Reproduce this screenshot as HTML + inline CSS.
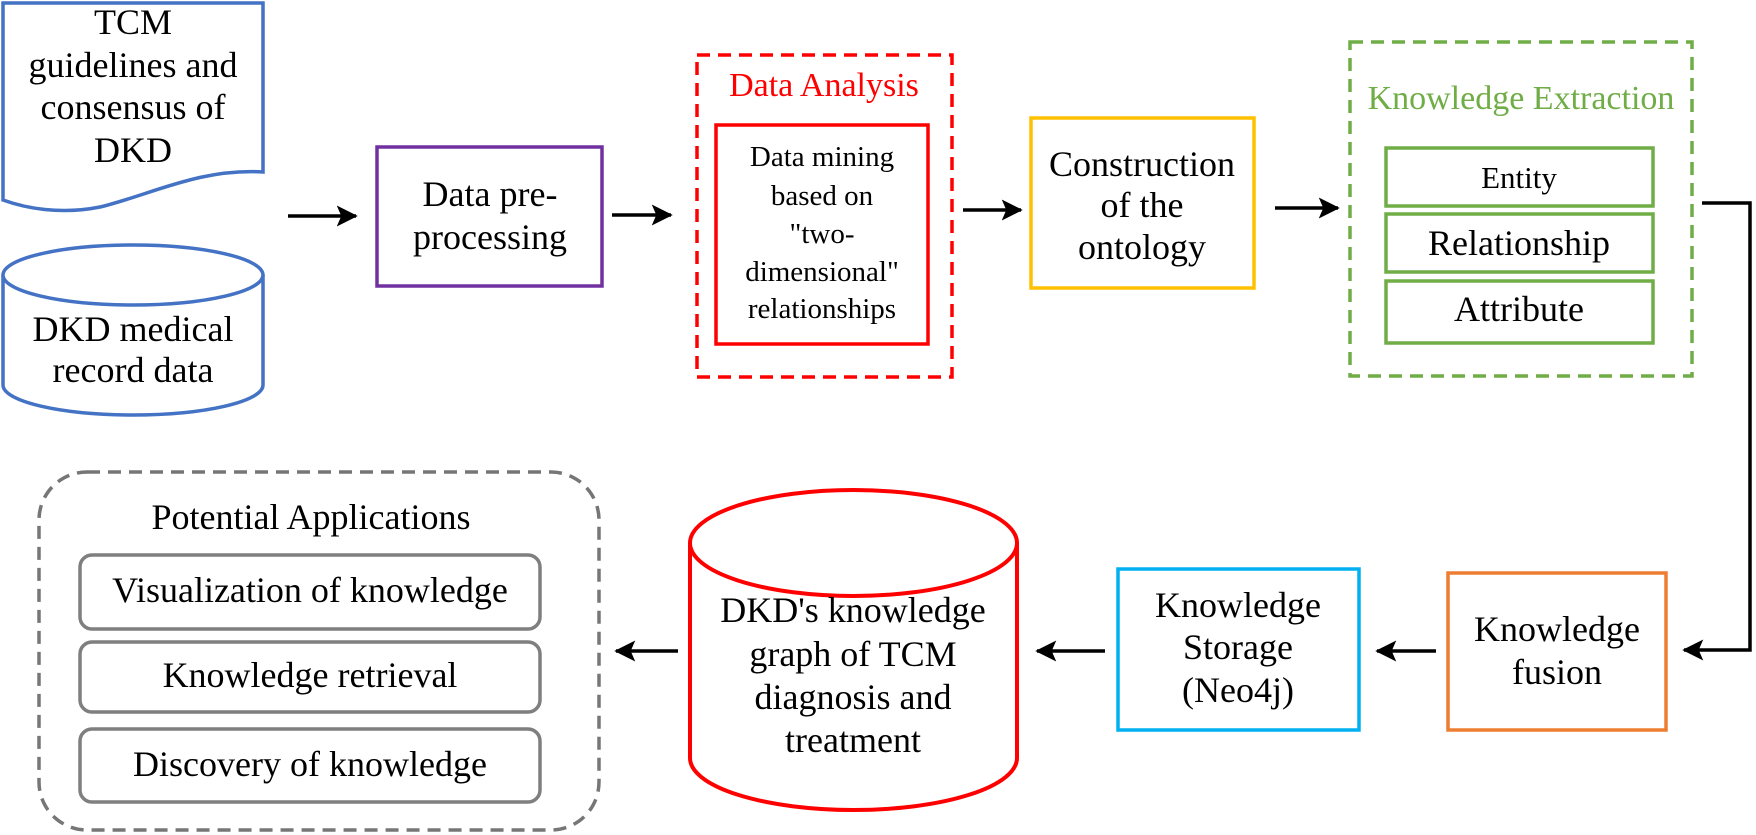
<!DOCTYPE html>
<html><head><meta charset="utf-8"><style>
html,body{margin:0;padding:0;background:#fff}
#w{position:relative;width:1756px;height:835px;overflow:hidden}
svg{display:block;position:absolute;left:0;top:0}
.t{position:absolute;width:400px;text-align:center;font-family:"Liberation Serif","DejaVu Serif",serif;font-size:36px;line-height:36px;color:#000;white-space:nowrap}
.s{font-size:29px;line-height:29px}
</style></head><body><div id="w">
<svg width="1756" height="835" viewBox="0 0 1756 835" xmlns="http://www.w3.org/2000/svg">
<defs>
<marker id="ah" markerWidth="7" markerHeight="7" refX="5.5" refY="3.5" orient="auto" markerUnits="strokeWidth">
<path d="M0,0.5 L6,3.5 L0,6.5 L1.3,3.5 Z" fill="#000"/>
</marker>
</defs>
<path d="M3,3 H263 V172 C200,168 150,195 100,207 C60,215 25,208 3,200 Z" fill="#fff" stroke="#4472C4" stroke-width="3.5"/>
<path d="M3,275 V385 A130,30 0 0 0 263,385 V275" fill="#fff" stroke="#4472C4" stroke-width="3.5"/>
<ellipse cx="133" cy="275" rx="130" ry="30" fill="#fff" stroke="#4472C4" stroke-width="3.5"/>
<line x1="288" y1="216" x2="356" y2="216" stroke="#000" stroke-width="3.5" marker-end="url(#ah)"/>
<line x1="612" y1="215" x2="671" y2="215" stroke="#000" stroke-width="3.5" marker-end="url(#ah)"/>
<line x1="963" y1="210" x2="1021" y2="210" stroke="#000" stroke-width="3.5" marker-end="url(#ah)"/>
<line x1="1275" y1="208" x2="1338" y2="208" stroke="#000" stroke-width="3.5" marker-end="url(#ah)"/>
<rect x="377" y="147" width="225" height="139" fill="none" stroke="#7030A0" stroke-width="3.5"/>
<rect x="697" y="55" width="255" height="322" fill="none" stroke="#FF0000" stroke-width="3.5" stroke-dasharray="13,8"/>
<rect x="716" y="125" width="212" height="219" fill="none" stroke="#FF0000" stroke-width="3.5"/>
<rect x="1031" y="118" width="223" height="170" fill="none" stroke="#FFC000" stroke-width="3.5"/>
<rect x="1350" y="42" width="342" height="334" fill="none" stroke="#70AD47" stroke-width="3.5" stroke-dasharray="13,8"/>
<rect x="1386" y="148" width="267" height="58" fill="none" stroke="#70AD47" stroke-width="3.5"/>
<rect x="1386" y="214" width="267" height="58" fill="none" stroke="#70AD47" stroke-width="3.5"/>
<rect x="1386" y="281" width="267" height="62" fill="none" stroke="#70AD47" stroke-width="3.5"/>
<polyline points="1702,203 1750,203 1750,650 1684,650" fill="none" stroke="#000" stroke-width="3.5" marker-end="url(#ah)"/>
<rect x="1448" y="573" width="218" height="157" fill="none" stroke="#ED7D31" stroke-width="3.5"/>
<line x1="1436" y1="651" x2="1377" y2="651" stroke="#000" stroke-width="3.5" marker-end="url(#ah)"/>
<rect x="1118" y="569" width="241" height="161" fill="none" stroke="#00B0F0" stroke-width="3.5"/>
<line x1="1105" y1="651" x2="1037" y2="651" stroke="#000" stroke-width="3.5" marker-end="url(#ah)"/>
<path d="M690,543 V758 A163.5,52 0 0 0 1017,758 V543" fill="#fff" stroke="#FF0000" stroke-width="4"/>
<ellipse cx="853.5" cy="543" rx="163.5" ry="53" fill="#fff" stroke="#FF0000" stroke-width="4"/>
<line x1="678" y1="651" x2="616" y2="651" stroke="#000" stroke-width="3.5" marker-end="url(#ah)"/>
<rect x="39" y="472" width="560" height="358" rx="48" fill="none" stroke="#767676" stroke-width="3.5" stroke-dasharray="13,8"/>
<rect x="80" y="555" width="460" height="74" rx="12" fill="none" stroke="#7F7F7F" stroke-width="3.5"/>
<rect x="80" y="642" width="460" height="70" rx="12" fill="none" stroke="#7F7F7F" stroke-width="3.5"/>
<rect x="80" y="729" width="460" height="73" rx="12" fill="none" stroke="#7F7F7F" stroke-width="3.5"/>
</svg>
<div class="t" style="left:-67px;top:4px">TCM</div>
<div class="t" style="left:-67px;top:47px">guidelines and</div>
<div class="t" style="left:-67px;top:89px">consensus of</div>
<div class="t" style="left:-67px;top:132px">DKD</div>
<div class="t" style="left:-67px;top:311px">DKD medical</div>
<div class="t" style="left:-67px;top:352px">record data</div>
<div class="t" style="left:290px;top:176px">Data pre-</div>
<div class="t" style="left:290px;top:219px">processing</div>
<div class="t" style="left:624px;top:69px;font-size:34px;line-height:34px;color:#FF0000">Data Analysis</div>
<div class="t s" style="left:622px;top:143px">Data mining</div>
<div class="t s" style="left:622px;top:182px">based on</div>
<div class="t s" style="left:622px;top:220px">"two-</div>
<div class="t s" style="left:622px;top:258px">dimensional"</div>
<div class="t s" style="left:622px;top:295px">relationships</div>
<div class="t" style="left:942px;top:146px">Construction</div>
<div class="t" style="left:942px;top:187px">of the</div>
<div class="t" style="left:942px;top:229px">ontology</div>
<div class="t" style="left:1321px;top:82px;font-size:34px;line-height:34px;color:#70AD47">Knowledge Extraction</div>
<div class="t" style="left:1319px;top:162px;font-size:31px;line-height:31px">Entity</div>
<div class="t" style="left:1319px;top:225px">Relationship</div>
<div class="t" style="left:1319px;top:291px">Attribute</div>
<div class="t" style="left:1357px;top:611px">Knowledge</div>
<div class="t" style="left:1357px;top:654px">fusion</div>
<div class="t" style="left:1038px;top:587px">Knowledge</div>
<div class="t" style="left:1038px;top:629px">Storage</div>
<div class="t" style="left:1038px;top:672px">(Neo4j)</div>
<div class="t" style="left:653px;top:592px">DKD's knowledge</div>
<div class="t" style="left:653px;top:636px">graph of TCM</div>
<div class="t" style="left:653px;top:679px">diagnosis and</div>
<div class="t" style="left:653px;top:722px">treatment</div>
<div class="t" style="left:111px;top:499px">Potential Applications</div>
<div class="t" style="left:110px;top:572px">Visualization of knowledge</div>
<div class="t" style="left:110px;top:657px">Knowledge retrieval</div>
<div class="t" style="left:110px;top:746px">Discovery of knowledge</div>
</div></body></html>
